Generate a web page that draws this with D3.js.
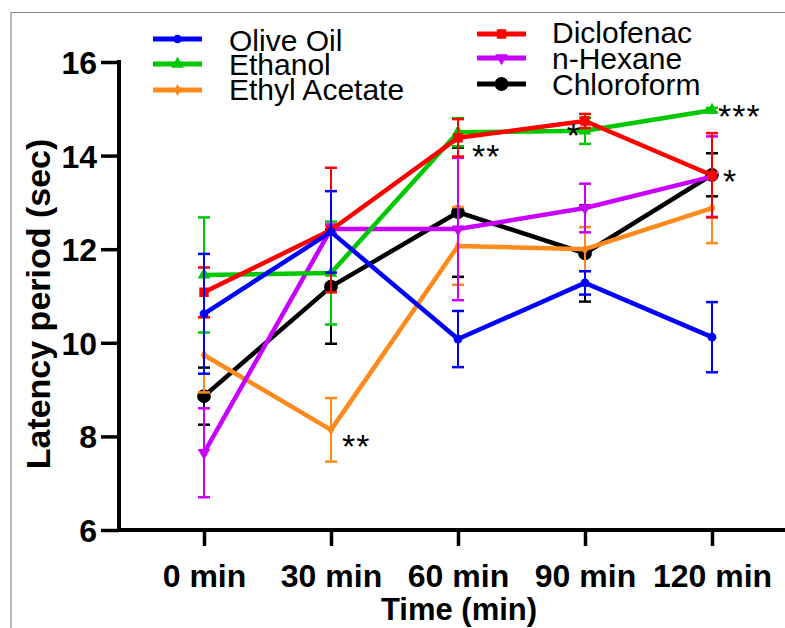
<!DOCTYPE html>
<html lang="en">
<head>
    <meta charset="UTF-8">
    <title>Latency period over time</title>
    <style>
        body, html {
            margin: 0;
            padding: 0;
            background: #fff;
        }
        #chart {
            width: 785px;
            height: 628px;
        }
        text {
            font-family: Arial, "Liberation Sans", sans-serif;
        }
    </style>
    <script src="https://d3js.org/d3.v7.min.js"></script>
</head>
<body>
    <div id="chart"></div>
    <script>
        // chart values
        const times = ["0 min", "30 min", "60 min", "90 min", "120 min"];
        const yTicks = [6, 8, 10, 12, 14, 16];

        const seriesNames = ["Olive Oil", "Ethanol", "Ethyl Acetate", "Diclofenac", "n-Hexane", "Chloroform"];
        const oliveOil = [10.62, 12.37, 10.08, 11.28, 10.12];
        const oliveOilErr = [1.28, 0.87, 0.6, 0.25, 0.75];
        const ethanol = [11.45, 11.49, 14.50, 14.53, 14.97];
        const ethanolErr = [1.23, 1.1, 0.3, 0.28, 0.05];
        const ethylAcetate = [9.74, 8.14, 12.07, 12.0, 12.88];
        const ethylAcetateErr = [0.8, 0.68, 0.83, 0.47, 0.75];
        const diclofenac = [11.08, 12.41, 14.38, 14.74, 13.58];
        const diclofenacErr = [0.53, 1.33, 0.4, 0.15, 0.9];
        const nHexane = [7.65, 12.43, 12.43, 12.88, 13.55];
        const nHexaneErr = [0.95, 0.1, 1.52, 0.52, 0.86];
        const chloroform = [8.86, 11.2, 12.79, 11.91, 13.59];
        const chloroformErr = [0.61, 1.22, 1.38, 1.03, 0.46];

        // significance marks: [series, time index, text]
        const stars = [
            ["Ethyl Acetate", 1, "**"],
            ["Diclofenac", 2, "**"],
            ["Ethanol", 3, "*"],
            ["Ethanol", 4, "***"],
            ["Diclofenac", 4, "*"]
        ];

        const colors = {
            "Olive Oil": "#0000ff",
            "Ethanol": "#00c800",
            "Ethyl Acetate": "#ff8a1c",
            "Diclofenac": "#ff0000",
            "n-Hexane": "#c800ff",
            "Chloroform": "#000000"
        };
        const symbols = {
            "Olive Oil": [d3.symbolCircle, 60],
            "Ethanol": [d3.symbolTriangle, 70],
            "Ethyl Acetate": [d3.symbolDiamond, 40],
            "Diclofenac": [d3.symbolSquare, 90],
            "n-Hexane": [d3.symbolTriangle, 70],
            "Chloroform": [d3.symbolCircle, 150]
        };

        const series = [
            { name: "Olive Oil", values: oliveOil, err: oliveOilErr },
            { name: "Ethanol", values: ethanol, err: ethanolErr },
            { name: "Ethyl Acetate", values: ethylAcetate, err: ethylAcetateErr },
            { name: "Diclofenac", values: diclofenac, err: diclofenacErr },
            { name: "n-Hexane", values: nHexane, err: nHexaneErr },
            { name: "Chloroform", values: chloroform, err: chloroformErr }
        ];
        // drawing order (last on top)
        const drawOrder = ["Chloroform", "Ethyl Acetate", "n-Hexane", "Ethanol", "Diclofenac", "Olive Oil"];

        const width = 785, height = 628;
        const svg = d3.select("#chart").append("svg")
            .attr("width", width)
            .attr("height", height);

        // thin frame around the figure
        svg.append("path")
            .attr("d", `M11,${height} V12.5 H${width}`)
            .attr("fill", "none")
            .attr("stroke", "#8a8a8a")
            .attr("stroke-width", 1.2);

        const x = d3.scalePoint().domain(times).range([204, 712]);
        const y = d3.scaleLinear().domain([6, 16]).range([530, 62]);
        const axisX = 119;

        // y axis
        const yAxis = svg.append("g")
            .attr("transform", `translate(${axisX},0)`)
            .call(d3.axisLeft(y).tickValues(yTicks).tickSize(18).tickPadding(4).tickSizeOuter(0));
        yAxis.select(".domain").attr("stroke", "#000").attr("stroke-width", 4)
            .attr("d", `M0,${y(16) - 2}V${y(6) + 2}`);
        yAxis.selectAll(".tick line").attr("stroke", "#000").attr("stroke-width", 3.5);
        yAxis.selectAll(".tick text")
            .attr("fill", "#000")
            .style("font-size", "32px")
            .style("font-weight", "bold")
            .attr("dy", "0.36em");

        // x axis
        const xAxis = svg.append("g")
            .attr("transform", `translate(0,${y(6)})`)
            .call(d3.axisBottom(x).tickSize(16).tickPadding(18).tickSizeOuter(0));
        xAxis.select(".domain").attr("stroke", "#000").attr("stroke-width", 4)
            .attr("d", `M${axisX - 2},0H${width}`);
        xAxis.selectAll(".tick line").attr("stroke", "#000").attr("stroke-width", 3.5);
        xAxis.selectAll(".tick text")
            .attr("fill", "#000")
            .style("font-size", "32px")
            .style("font-weight", "bold");

        svg.append("text")
            .attr("x", 459)
            .attr("y", 620)
            .attr("text-anchor", "middle")
            .style("font-size", "31px")
            .style("font-weight", "bold")
            .text("Time (min)");

        svg.append("text")
            .attr("transform", "translate(50,304) rotate(-90)")
            .attr("text-anchor", "middle")
            .style("font-size", "34px")
            .style("font-weight", "bold")
            .text("Latency period (sec)");

        const byName = Object.fromEntries(series.map(s => [s.name, s]));

        function symbolPath(name) {
            const [type, size] = symbols[name];
            return d3.symbol().type(type).size(size)();
        }
        function symbolRotate(name) {
            return name === "n-Hexane" ? " rotate(180)" : "";
        }

        const line = d3.line()
            .x((d, i) => x(times[i]))
            .y(d => y(d));

        drawOrder.forEach(name => {
            const s = byName[name];
            const g = svg.append("g");
            const c = colors[name];

            // error bars
            s.values.forEach((v, i) => {
                const cx = x(times[i]);
                const e = s.err[i];
                g.append("line")
                    .attr("x1", cx).attr("x2", cx)
                    .attr("y1", y(v + e)).attr("y2", y(v - e))
                    .attr("stroke", c).attr("stroke-width", 2);
                [v + e, v - e].forEach(t => {
                    g.append("line")
                        .attr("x1", cx - 6).attr("x2", cx + 6)
                        .attr("y1", y(t)).attr("y2", y(t))
                        .attr("stroke", c).attr("stroke-width", 2.5);
                });
            });

            g.append("path")
                .datum(s.values)
                .attr("d", line)
                .attr("fill", "none")
                .attr("stroke", c)
                .attr("stroke-width", 4.5)
                .attr("stroke-linejoin", "round");

            g.selectAll("path.pt")
                .data(s.values)
                .join("path")
                .attr("class", "pt")
                .attr("d", symbolPath(name))
                .attr("transform", (d, i) => `translate(${x(times[i])},${y(d)})` + symbolRotate(name))
                .attr("fill", c);
        });

        // significance stars
        const starOffsets = {
            "Ethyl Acetate|1": [11, 14, "start"],
            "Diclofenac|2": [14, 16, "start"],
            "Ethanol|3": [-4, 2, "end"],
            "Ethanol|4": [6, 4, "start"],
            "Diclofenac|4": [11, 4, "start"]
        };
        stars.forEach(([name, i, txt]) => {
            const [dx, dy, anchor] = starOffsets[name + "|" + i];
            svg.append("text")
                .attr("x", x(times[i]) + dx)
                .attr("y", y(byName[name].values[i]) + dy + 14)
                .attr("text-anchor", anchor)
                .style("font-size", "34px")
                .attr("letter-spacing", "1px")
                .text(txt);
        });

        // legend
        const legendCols = [
            { names: ["Olive Oil", "Ethanol", "Ethyl Acetate"], x0: 153, tx: 229, ys: [39, 64, 90], base: [51, 75, 100] },
            { names: ["Diclofenac", "n-Hexane", "Chloroform"], x0: 477, tx: 552, ys: [34, 58, 84], base: [43, 69, 95] }
        ];
        legendCols.forEach(col => {
            col.names.forEach((name, k) => {
                const ly = col.ys[k];
                svg.append("line")
                    .attr("x1", col.x0).attr("x2", col.x0 + 49)
                    .attr("y1", ly).attr("y2", ly)
                    .attr("stroke", colors[name]).attr("stroke-width", 5);
                svg.append("path")
                    .attr("d", symbolPath(name))
                    .attr("transform", `translate(${col.x0 + 24.5},${ly})` + symbolRotate(name))
                    .attr("fill", colors[name]);
                svg.append("text")
                    .attr("x", col.tx)
                    .attr("y", col.base[k])
                    .style("font-size", "30px")
                    .text(name);
            });
        });
    </script>
</body>
</html>
